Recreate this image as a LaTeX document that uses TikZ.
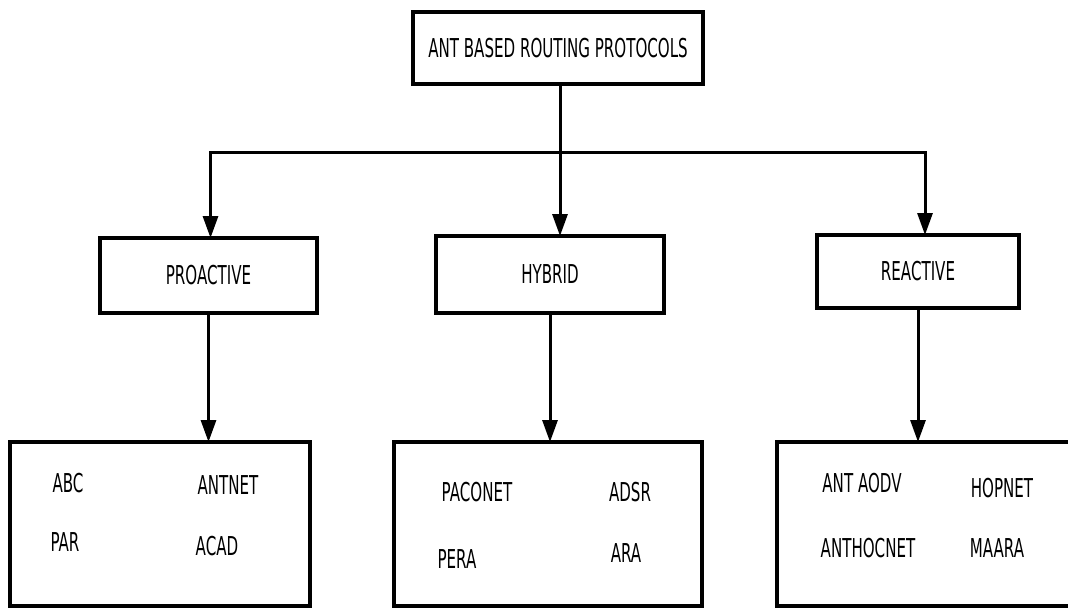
\documentclass[tikz,border=0pt]{standalone}
\usepackage{fontspec}
\setmainfont{DejaVu Sans}[FakeStretch=0.58]
\usetikzlibrary{arrows.meta}

\begin{document}
\begin{tikzpicture}[
	x=1pt, y=-1pt,
	font=\fontsize{26}{30}\selectfont,
	MyBox/.style={draw, line width=3.5pt, inner sep=0pt, outer sep=0pt},
	MyItem/.style={inner sep=0pt},
	MyLine/.style={line width=3pt},
	MyArrow/.style={line width=3pt, -{Triangle[length=22pt, width=15pt]}},
	]
	\useasboundingbox (0,0) rectangle (1068,608);

	\node [MyBox, minimum width=290pt, minimum height=72pt] (top) at (558,48) {ANT BASED ROUTING PROTOCOLS};

	\node [MyBox, minimum width=217pt, minimum height=75pt] (proactive) at (208.5,275.5) {PROACTIVE};
	\node [MyBox, minimum width=228pt, minimum height=77pt] (hybrid) at (550,274.5) {HYBRID};
	\node [MyBox, minimum width=202pt, minimum height=73pt] (reactive) at (918,271.5) {REACTIVE};

	\node [MyBox, minimum width=300pt, minimum height=164pt] (prolist) at (160,524) {};
	\node [MyBox, minimum width=308pt, minimum height=164pt] (hyblist) at (548,524) {};
	\node [MyBox, minimum width=303pt, minimum height=164pt] (reactlist) at (928.5,524) {};

	% proactive protocols
	\node [MyItem] (abc) at (68,483) {ABC};
	\node [MyItem] (antnet) at (228,485) {ANTNET};
	\node [MyItem] (par) at (65,542) {PAR};
	\node [MyItem] (acad) at (217,546) {ACAD};

	% hybrid protocols
	\node [MyItem] (paconet) at (477,492) {PACONET};
	\node [MyItem] (adsr) at (630,492) {ADSR};
	\node [MyItem] (pera) at (457,559) {PERA};
	\node [MyItem] (ara) at (626,553) {ARA};

	% reactive protocols
	\node [MyItem] (antaodv) at (862,483) {ANT AODV};
	\node [MyItem] (hopnet) at (1002,488) {HOPNET};
	\node [MyItem] (anthocnet) at (868,548) {ANTHOCNET};
	\node [MyItem] (maara) at (997,548) {MAARA};

	\coordinate (bus) at (560,152);
	\draw [MyLine] (bus |- top.south) -- (bus);
	\draw [MyArrow] (bus) -| ([xshift=2pt]proactive.north);
	\draw [MyArrow] (bus) -- (bus |- hybrid.north);
	\draw [MyArrow] (bus) -| ([xshift=7pt]reactive.north);

	\draw [MyArrow] (proactive.south) -- (proactive.south |- prolist.north);
	\draw [MyArrow] (hybrid.south) -- (hybrid.south |- hyblist.north);
	\draw [MyArrow] (reactive.south) -- (reactive.south |- reactlist.north);

\end{tikzpicture}
\end{document}
